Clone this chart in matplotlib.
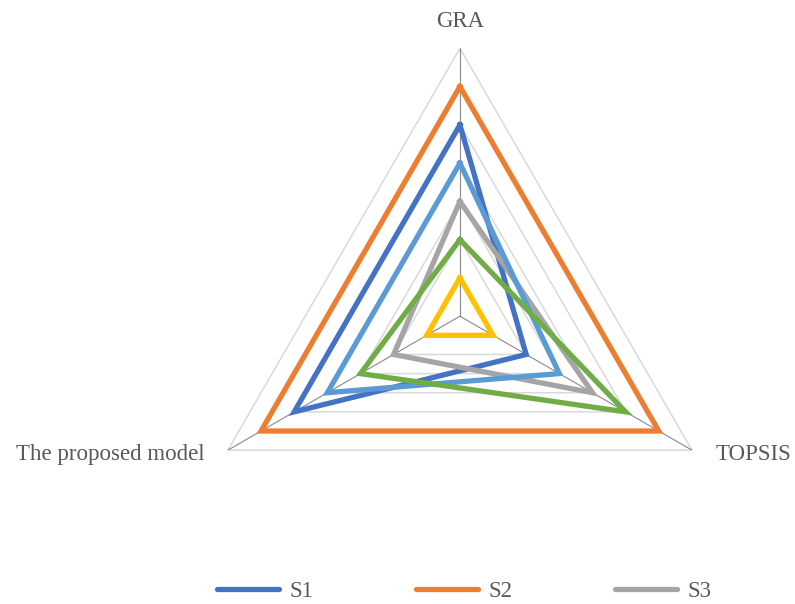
import numpy as np
import matplotlib.pyplot as plt
from matplotlib.lines import Line2D

plt.rcParams['font.family'] = ['Liberation Serif', 'DejaVu Serif']

criteria = ['GRA', 'TOPSIS', 'The proposed model']
series = ['S1', 'S2', 'S3', 'S4', 'S5', 'S6']
s1 = [5, 2, 5]
s2 = [6, 6, 6]
s3 = [3, 4, 2]
s4 = [1, 1, 1]
s5 = [4, 3, 4]
s6 = [2, 5, 3]
rings = [1, 2, 3, 4, 5, 6, 7]

colors = ['#4472C4', '#ED7D31', '#A5A5A5', '#FFC000', '#5B9BD5', '#70AD47']
text_color = '#595959'


def closed(vals):
    return list(vals) + [vals[0]]


def main():
    fig = plt.figure(figsize=(7.95, 6.04), dpi=100)
    ax = fig.add_axes([0.2415, 0.033, 0.674, 0.887], projection='polar')
    ax.set_theta_offset(np.pi / 2)
    ax.set_theta_direction(-1)
    ax.set_ylim(0, rings[-1])
    ax.grid(False)
    ax.spines['polar'].set_visible(False)
    ax.set_xticks([])
    ax.set_yticks([])
    ax.patch.set_alpha(0)

    angles = np.linspace(0, 2 * np.pi, len(criteria), endpoint=False)
    th = closed(angles)

    # triangular grid and spokes
    for r in rings:
        ax.plot(th, [r] * len(th), color='#D9D9D9', lw=1.1, zorder=1)
    for a in angles:
        ax.plot([a, a], [0, rings[-1]], color='#898989', lw=0.8, zorder=2)

    data = [s1, s2, s3, s4, s5, s6]
    for name, vals, c in zip(series, data, colors):
        ax.plot(th, closed(vals), color=c, lw=3.8, solid_joinstyle='miter',
                zorder=3, label=name)

    # axis labels
    offsets = [(0, 12, 'center', 'bottom'), (17, -3, 'left', 'center'),
               (-17, -3, 'right', 'center')]
    for lab, a, (dx, dy, ha, va) in zip(criteria, angles, offsets):
        ax.annotate(lab, (a, rings[-1]), xytext=(dx, dy), textcoords='offset points',
                    ha=ha, va=va, fontsize=16.5, color=text_color,
                    annotation_clip=False)

    handles = [Line2D([], [], color=c, lw=3.8, solid_capstyle='round') for c in colors[:3]]
    leg = fig.legend(handles, series[:3], loc='center', bbox_to_anchor=(0.584, 0.02),
                     ncol=3, frameon=False, fontsize=16.5, handlelength=2.7,
                     handletextpad=0.45, columnspacing=4.5)
    for t in leg.get_texts():
        t.set_color(text_color)

    fig.savefig('out.png', dpi=100)


main()
